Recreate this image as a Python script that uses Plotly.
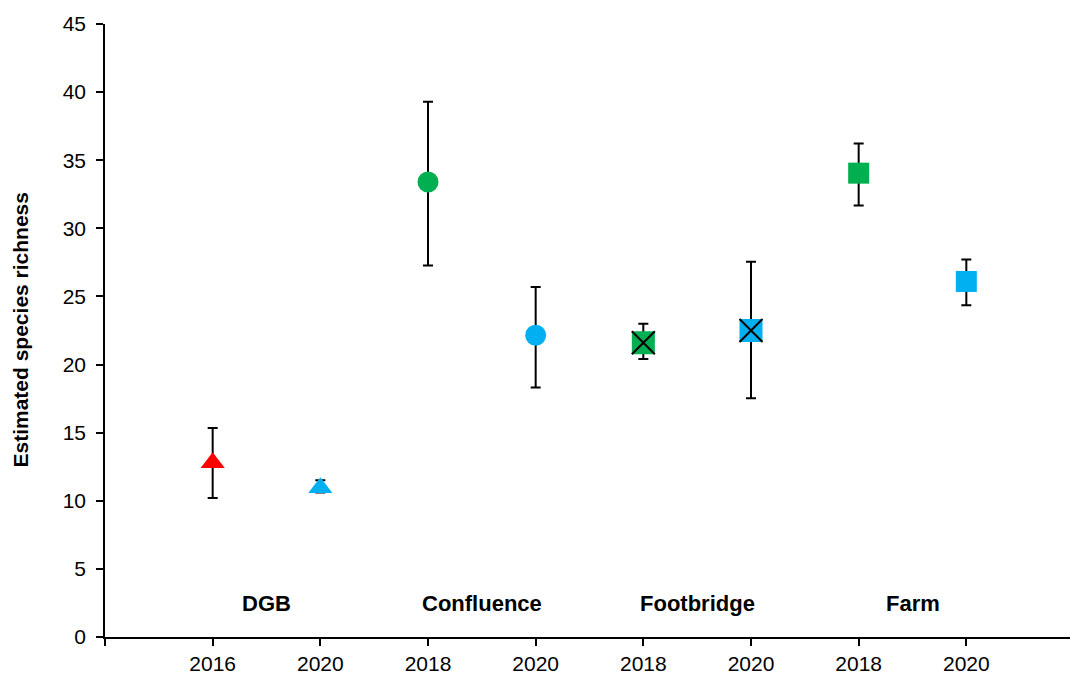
import plotly.graph_objects as go

# Data
sites = ["DGB", "Confluence", "Footbridge", "Farm"]
tick_labels = ["2016", "2020", "2018", "2020", "2018", "2020", "2018", "2020"]
positions = [1, 2, 3, 4, 5, 6, 7, 8]
values = [12.8, 10.95, 33.4, 22.15, 21.6, 22.5, 34.05, 26.1]
upper = [15.35, 11.5, 39.3, 25.7, 23.0, 27.55, 36.22, 27.72]
lower = [10.2, 10.6, 27.27, 18.31, 20.4, 17.52, 31.68, 24.36]
colors = ["#FF0000", "#00B0F0", "#00B050", "#00B0F0", "#00B050", "#00B0F0", "#00B050", "#00B0F0"]
symbols = ["triangle-up", "triangle-up", "circle", "circle", "square", "square", "square", "square"]
sizes = [21, 21, 21, 21, 23, 23, 21, 21]
crossed = [False, False, False, False, True, True, False, False]
site_label_x = [1.5, 3.5, 5.5, 7.5]
site_label_y = 2.45

fig = go.Figure()

for i in range(len(positions)):
    fig.add_trace(go.Scatter(
        x=[positions[i]], y=[values[i]], mode="markers",
        marker=dict(symbol=symbols[i], size=sizes[i], color=colors[i], line=dict(width=0)),
        error_y=dict(type="data", symmetric=False,
                     array=[upper[i] - values[i]], arrayminus=[values[i] - lower[i]],
                     color="black", thickness=2, width=5),
        showlegend=False, hoverinfo="y"))
    if crossed[i]:
        fig.add_trace(go.Scatter(
            x=[positions[i]], y=[values[i]], mode="markers",
            marker=dict(symbol="x-thin", size=sizes[i], color="black",
                        line=dict(width=2, color="black")),
            showlegend=False, hoverinfo="skip"))

for sx, name in zip(site_label_x, sites):
    fig.add_annotation(x=sx, y=site_label_y, text=f"<b>{name}</b>", showarrow=False,
                       font=dict(size=22, color="black", family="Liberation Sans, Arial"))

fig.add_annotation(xref="paper", yref="paper", x=-0.0877, y=0.5, xanchor="center", yanchor="middle",
                   text="<b>Estimated species richness</b>", textangle=-90, showarrow=False,
                   font=dict(size=21, color="black", family="Liberation Sans, Arial"))

fig.update_layout(
    width=1070, height=681,
    margin=dict(l=97, r=4, t=12, b=52),
    plot_bgcolor="white", paper_bgcolor="white",
    font=dict(family="Liberation Sans, Arial", size=21, color="black"),
    xaxis=dict(range=[0, 9], tickvals=list(range(10)),
               ticktext=[""] + tick_labels + [""],
               showgrid=False, zeroline=False, showline=True, linecolor="black", linewidth=1.5,
               ticks="outside", ticklen=7, tickwidth=1.5, tickcolor="black"),
    yaxis=dict(range=[0, 45], tickvals=list(range(0, 46, 5)),
               showgrid=False, zeroline=False, showline=True, linecolor="black", linewidth=1.5,
               ticks="outside", ticklen=7, tickwidth=1.5, tickcolor="black",
               ticklabelstandoff=6),
)

fig.write_html("out.html")
